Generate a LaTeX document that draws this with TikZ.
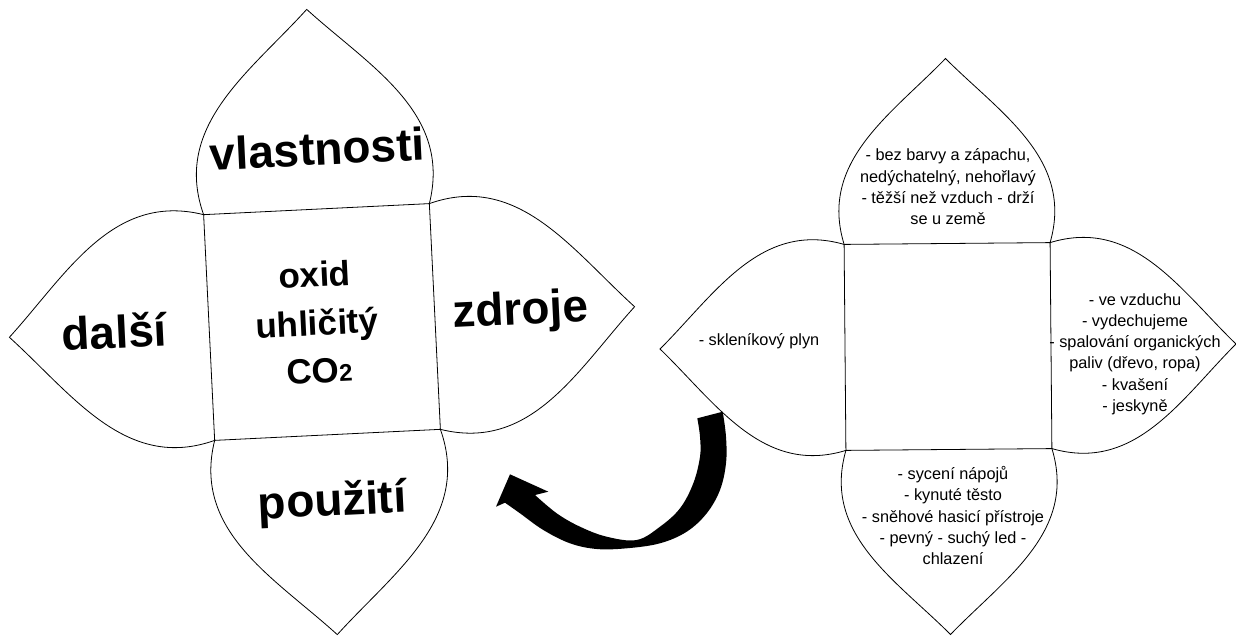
\documentclass[tikz,border=0pt]{standalone}
\usepackage{fontspec}
\setmainfont{Liberation Sans}
\begin{document}
\begin{tikzpicture}[x=1pt,y=-1pt,
  outline/.style={draw=black, line width=0.8pt, line join=miter},
  bigword/.style={font=\bfseries\fontsize{46}{46}\selectfont, inner sep=0pt, anchor=base, rotate=2.8},
  coreword/.style={font=\bfseries\fontsize{35}{35}\selectfont, inner sep=0pt, anchor=base, rotate=2.8},
  note/.style={font=\fontsize{16.3}{21.2}\selectfont, align=center, inner sep=0pt}]
% page
\fill[white] (0,0) rectangle (1236,639);
\useasboundingbox (0,0) rectangle (1236,639);

% ---------- left net: square with four onion-shaped flaps ----------
\begin{scope}[shift={(322,322)}, rotate=2.8]
  \def\pa{113}\def\ph{200}
  \draw[outline] (-\pa,-\pa) rectangle (\pa,\pa);
  \foreach \r in {0,90,180,270}{
    \draw[outline, rotate=\r] (-\pa,-\pa)
      .. controls (-1.24*\pa,-\pa-0.45*\ph) and (-0.53*\pa,-\pa-0.70*\ph) .. (0,-\pa-\ph)
      .. controls (0.53*\pa,-\pa-0.70*\ph) and (1.24*\pa,-\pa-0.45*\ph) .. (\pa,-\pa);
  }
  \node[bigword] (props) at (3.7,-157) {vlastnosti};
  \node[bigword] (more) at (-208,16) {další};
  \node[bigword] (sources) at (199,12) {zdroje};
  \node[bigword] (uses) at (1.5,194) {použití};
  \node[coreword] (name1) at (-5,-35.3) {oxid};
  \node[coreword] (name2) at (-5,12.9) {uhličitý};
  \node[coreword] (name3) at (-5,60.5) {CO{\fontsize{24}{24}\selectfont 2}};
\end{scope}

% ---------- right net: the same flaps, filled in ----------
\begin{scope}[shift={(948,346.5)}, rotate=0.5]
  \def\pa{103}\def\ph{185}
  \draw[outline] (-\pa,-\pa) rectangle (\pa,\pa);
  \foreach \r in {0,90,180,270}{
    \draw[outline, rotate=\r] (-\pa,-\pa)
      .. controls (-1.24*\pa,-\pa-0.45*\ph) and (-0.53*\pa,-\pa-0.70*\ph) .. (0,-\pa-\ph)
      .. controls (0.53*\pa,-\pa-0.70*\ph) and (1.24*\pa,-\pa-0.45*\ph) .. (\pa,-\pa);
  }
\end{scope}

\node[note, anchor=north] (props2) at (948,147.7)
  {\rule{0pt}{13pt}- bez barvy a zápachu,\\ nedýchatelný, nehořlavý\\ - těžší než vzduch - drží\\ se u země};
\node[note, anchor=north] (sources2) at (1135,292)
  {\rule{0pt}{13pt}- ve vzduchu\\ - vydechujeme\\ - spalování organických\\ paliv (dřevo, ropa)\\ - kvašení\\ - jeskyně};
\node[note, anchor=north] (uses2) at (953,466.3)
  {\rule{0pt}{13pt}- sycení nápojů\\ - kynuté těsto\\ - sněhové hasicí přístroje\\ - pevný - suchý led -\\ chlazení};
\node[note, anchor=base] (more2) at (759,345) {- skleníkový plyn};

% ---------- curved block arrow from the right net back to the left one ----------
\fill[black] (697.3,418.3) -- plot[smooth, tension=0.6] coordinates {
    (722.7,411.7) (726,436.7) (726,463.3) (720,490) (706.7,513.3) (686.7,531.7)
    (660,543.3) (626.7,548.3) (596.7,549) (570,543.3) (543.3,530) (520,513.3) (505,502.7)}
  -- (496,506.7) -- (510,474.3) -- (548.3,491.7)
  -- plot[smooth, tension=0.6] coordinates {
    (535,495) (556.7,513.3) (580,526.7) (606.7,536.7) (636.7,540) (660,526.7)
    (680,508.3) (693.3,483.3) (700,456.7) (700,436.7) (697.3,418.3)}
  -- cycle;
\end{tikzpicture}
\end{document}
